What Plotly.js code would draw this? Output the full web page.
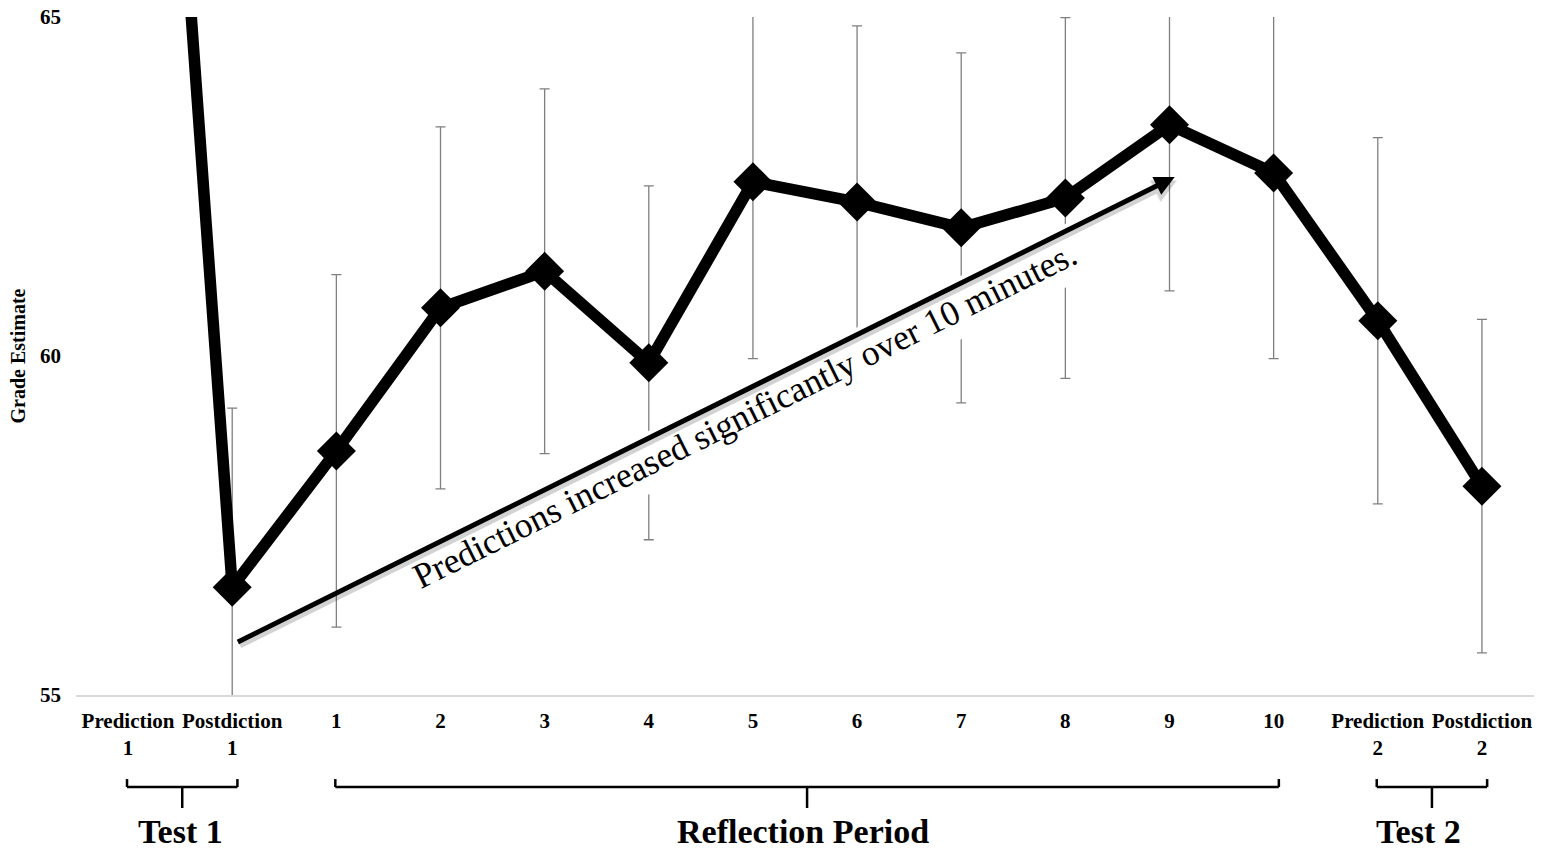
<!DOCTYPE html>
<html>
<head>
<meta charset="utf-8">
<script src="https://cdn.plot.ly/plotly-3.0.1.min.js"></script>
<style>
  html, body { margin: 0; padding: 0; background: #ffffff; }
  #chart { width: 1541px; height: 850px; }
</style>
</head>
<body>
<div id="chart"></div>
<script>
// ---- data ----
const categories = [
  "Prediction<br>1", "Postdiction<br>1",
  "1", "2", "3", "4", "5", "6", "7", "8", "9", "10",
  "Prediction<br>2", "Postdiction<br>2"
];
const gradeEstimate = [78.0, 56.59, 58.60, 60.71, 61.25, 59.90, 62.57, 62.27, 61.89, 62.33, 63.41, 62.70, 60.52, 58.08];
const errorValues   = [2.6,  2.64,  2.60,  2.67,  2.69,  2.61,  2.61,  2.60,  2.58,  2.66,  2.45,  2.74,  2.70,  2.46];
const yTickValues = [55, 60, 65];

const groupLabels = ["Test 1", "Reflection Period", "Test 2"];
const groupStart  = [0, 2, 12];   // first category index of each group
const groupEnd    = [1, 11, 13];  // last category index of each group

const annotationText = "Predictions increased significantly over 10 minutes.";
const yTitle = "Grade Estimate";

// ---- build ----
const xIdx = categories.map((c, i) => i);
const FONT = '"Liberation Serif", "Times New Roman", Times, serif';

const trace = {
  type: 'scatter',
  mode: 'lines+markers',
  x: xIdx,
  y: gradeEstimate,
  line: { color: '#000000', width: 11.5 },
  marker: { symbol: 'diamond', size: 30, color: '#000000' },
  error_y: { type: 'data', array: errorValues, visible: true, color: '#7f7f7f', thickness: 1.3, width: 5 },
  cliponaxis: true,
  hoverinfo: 'skip'
};

// brackets under the axis (paper y: 0 = y-axis bottom)
const yTop = -0.124, yMid = -0.1357, yLow = -0.1667, yLab = -0.202;
const labelShift = [-0.02, -0.04, -0.13]; // small horizontal label offsets (style)
const shapes = [];
const annotations = [];
groupLabels.forEach((lab, k) => {
  const x0 = groupStart[k] - 0.01;
  const x1 = groupEnd[k] + 0.05;
  const xm = (x0 + x1) / 2;
  const ln = { color: '#000000', width: 2.5 };
  shapes.push({ type: 'line', xref: 'x', yref: 'paper', x0: x0, x1: x1, y0: yMid, y1: yMid, line: ln });
  shapes.push({ type: 'line', xref: 'x', yref: 'paper', x0: x0, x1: x0, y0: yMid, y1: yTop, line: ln });
  shapes.push({ type: 'line', xref: 'x', yref: 'paper', x0: x1, x1: x1, y0: yMid, y1: yTop, line: ln });
  shapes.push({ type: 'line', xref: 'x', yref: 'paper', x0: xm, x1: xm, y0: yMid, y1: yLow, line: ln });
  annotations.push({
    xref: 'x', yref: 'paper', x: xm + labelShift[k], y: yLab, text: lab, showarrow: false,
    xanchor: 'center', yanchor: 'middle',
    font: { family: FONT, size: 34, color: '#000000', weight: 'bold' }
  });
});

// rotated text with white box
annotations.push({
  xref: 'x', yref: 'y', x: 5.92, y: 59.13, text: annotationText, showarrow: false,
  textangle: -26.4, bgcolor: '#ffffff', borderpad: 8,
  font: { family: FONT, size: 35.5, color: '#000000' }
});
// arrow shadow
annotations.push({
  xref: 'x', yref: 'y', axref: 'x', ayref: 'y',
  x: 10.07, y: 62.59, ax: 1.06, ay: 55.72, text: '', showarrow: true,
  arrowhead: 2, arrowsize: 0.8, arrowwidth: 6, arrowcolor: 'rgba(0,0,0,0.18)', standoff: 0
});
// arrow
annotations.push({
  xref: 'x', yref: 'y', axref: 'x', ayref: 'y',
  x: 10.05, y: 62.64, ax: 1.04, ay: 55.77, text: '', showarrow: true,
  arrowhead: 2, arrowsize: 0.8, arrowwidth: 5, arrowcolor: '#000000', standoff: 0
});

const layout = {
  width: 1541, height: 850,
  margin: { l: 76, r: 7, t: 17, b: 155 },
  paper_bgcolor: '#ffffff', plot_bgcolor: '#ffffff',
  showlegend: false,
  font: { family: FONT, color: '#000000' },
  xaxis: {
    type: 'linear', range: [-0.5, 13.5],
    tickvals: xIdx, ticktext: categories,
    showgrid: false, zeroline: false,
    showline: true, linecolor: '#d9d9d9', linewidth: 1.5,
    ticks: '', ticklabelstandoff: 6,
    tickfont: { family: FONT, size: 21, color: '#000000', weight: 'bold' },
    fixedrange: true
  },
  yaxis: {
    range: [55, 65], tickvals: yTickValues, ticktext: yTickValues.map(String),
    showgrid: false, zeroline: false, showline: false,
    ticks: '', ticklabelstandoff: 14,
    tickfont: { family: FONT, size: 21, color: '#000000', weight: 'bold' },
    title: { text: yTitle, standoff: 9, font: { family: FONT, size: 20, color: '#000000', weight: 'bold' } },
    fixedrange: true
  },
  shapes: shapes,
  annotations: annotations
};

Plotly.newPlot('chart', [trace], layout, { displayModeBar: false, staticPlot: true });
</script>
</body>
</html>
